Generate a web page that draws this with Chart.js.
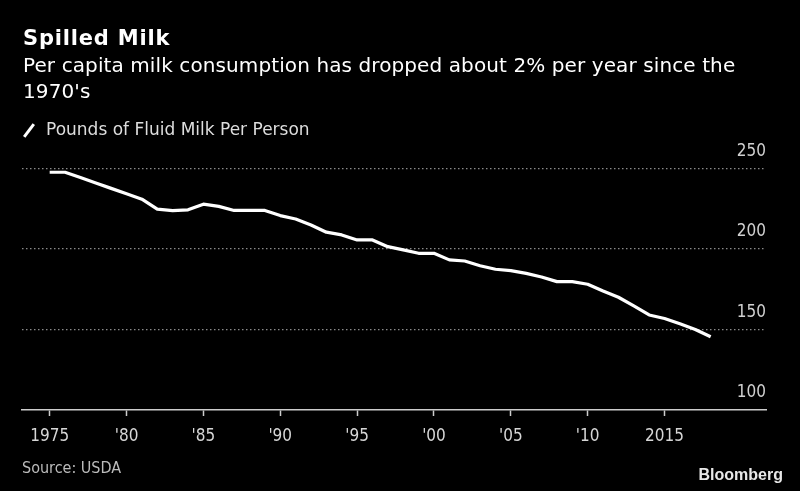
<!DOCTYPE html>
<html>
<head>
<meta charset="utf-8">
<script src="https://cdn.jsdelivr.net/npm/chart.js@4/dist/chart.umd.min.js"></script>
<style>
  html, body { margin: 0; padding: 0; background: #000; }
  #wrap { position: relative; width: 800px; height: 491px; overflow: hidden; background: #000;
          font-family: 'DejaVu Sans', sans-serif; }
  #chart { position: absolute; left: 0; top: 0; }
  .txt { position: absolute; white-space: nowrap; }
  #title { left: 23px; top: 28.2px; font-size: 21px; line-height: 21px; font-weight: bold; color: #fff; letter-spacing: 0.8px; }
  #subtitle { left: 23px; top: 52.4px; font-size: 20px; line-height: 26px; color: #fff; letter-spacing: 0.1px; }
  #legend { left: 46px; top: 120.6px; font-size: 17px; line-height: 17px; color: #ddd; }
  #legend-mark { position: absolute; left: 21px; top: 128.5px; width: 16px; height: 3px; background: #fff;
                 transform: rotate(-53deg); }
  #source { left: 22px; top: 459.8px; font-family: 'DejaVu Sans Condensed', 'DejaVu Sans', sans-serif; font-stretch: condensed;
            font-size: 16px; line-height: 16px; color: #bbb; }
  #brand { right: 17px; top: 466.5px; font-family: 'Liberation Sans', Arial, sans-serif;
           font-size: 16px; line-height: 16px; font-weight: bold; color: #e8e8e8; }
</style>
</head>
<body>
<div id="wrap">
  <canvas id="chart" width="800" height="491"></canvas>
  <div class="txt" id="title">Spilled Milk</div>
  <div class="txt" id="subtitle">Per capita milk consumption has dropped about 2% per year since the<br>1970's</div>
  <div id="legend-mark"></div>
  <div class="txt" id="legend">Pounds of Fluid Milk Per Person</div>
  <div class="txt" id="source">Source: USDA</div>
  <div class="txt" id="brand">Bloomberg</div>
</div>
<script>
// Datos
const years = [1975, 1976, 1977, 1978, 1979, 1980, 1981, 1982, 1983, 1984, 1985, 1986, 1987, 1988, 1989,
               1990, 1991, 1992, 1993, 1994, 1995, 1996, 1997, 1998, 1999, 2000, 2001, 2002, 2003, 2004,
               2005, 2006, 2007, 2008, 2009, 2010, 2011, 2012, 2013, 2014, 2015, 2016, 2017, 2018];
const poundsPerPerson = [247.6, 247.6, 244.3, 241.0, 237.6, 234.3, 230.9, 224.7, 223.8, 224.3, 227.8, 226.4, 223.9, 223.9, 223.9,
                         220.7, 218.6, 214.9, 210.4, 208.7, 205.6, 205.6, 201.4, 199.4, 197.3, 197.3, 193.2, 192.5, 189.6, 187.4,
                         186.5, 184.8, 182.6, 179.7, 179.7, 178.1, 173.9, 170.0, 164.6, 159.0, 156.8, 153.5, 150.0, 145.5];
const xTickValues = [1975, 1980, 1985, 1990, 1995, 2000, 2005, 2010, 2015];
const xTickLabels = ['1975', "'80", "'85", "'90", "'95", "'00", "'05", "'10", '2015'];
const yTickValues = [100, 150, 200, 250];

const fontFamily = "'DejaVu Sans Condensed', 'DejaVu Sans', sans-serif";

const ctx = document.getElementById('chart').getContext('2d');
new Chart(ctx, {
    type: 'line',
    data: {
        datasets: [{
            label: 'Pounds of Fluid Milk Per Person',
            data: years.map((y, i) => ({ x: y, y: poundsPerPerson[i] })),
            borderColor: '#ffffff',
            borderWidth: 3.2,
            pointRadius: 0,
            tension: 0,
            fill: false,
            borderJoinStyle: 'round',
            clip: false
        }]
    },
    options: {
        responsive: false,
        animation: false,
        devicePixelRatio: 1,
        layout: { padding: { left: 22, right: 34, top: 168.4, bottom: 34.6 } },
        plugins: { legend: { display: false }, tooltip: { enabled: false } },
        scales: {
            x: {
                type: 'linear',
                min: 1973.2,
                max: 2021.6,
                afterBuildTicks: s => { s.ticks = xTickValues.map(v => ({ value: v })); },
                grid: { display: true, drawOnChartArea: false, drawTicks: true, tickLength: 6, tickColor: '#cccccc', tickWidth: 1.5 },
                border: { display: true, color: '#cccccc', width: 1.5 },
                ticks: {
                    autoSkip: false,
                    maxRotation: 0,
                    padding: 10,
                    color: '#d6d6d6',
                    font: { family: fontFamily, size: 17 },
                    callback: (v, i) => xTickLabels[i]
                }
            },
            y: {
                position: 'right',
                min: 100,
                max: 250,
                afterBuildTicks: s => { s.ticks = yTickValues.map(v => ({ value: v })); },
                grid: {
                    drawTicks: false,
                    color: c => (c.tick && c.tick.value === 100) ? 'rgba(0,0,0,0)' : '#8a8a8a',
                    lineWidth: 1.2
                },
                border: { display: false, dash: [1.5, 2.5] },
                ticks: {
                    mirror: true,
                    padding: 0,
                    labelOffset: -17,
                    color: '#d0d0d0',
                    font: { family: fontFamily, size: 17 }
                }
            }
        }
    }
});
</script>
</body>
</html>
